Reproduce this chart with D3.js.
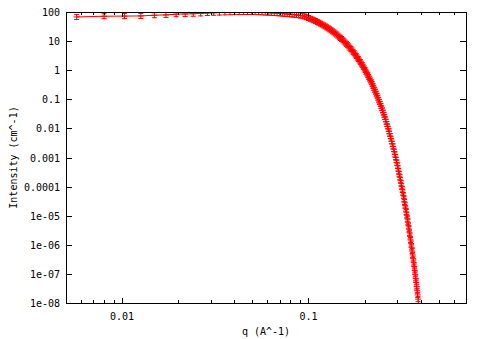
<!DOCTYPE html>
<html>
<head>
<meta charset="utf-8">
<script src="https://cdn.jsdelivr.net/npm/d3@7/dist/d3.min.js"></script>
<style>
	body { margin: 0; background: #fff; }
	text { font-family: "DejaVu Sans Mono", monospace; font-size: 10px; fill: #000; }
</style>
</head>
<body>
<svg id="chart" width="484" height="339"></svg>
<script>
// scattering curve: q (A^-1) and intensity (cm^-1)
var qValues = [
	0.0057, 0.0080, 0.0103, 0.0126, 0.0149, 0.0172, 0.0195, 0.0218, 0.0241, 0.0264,
	0.0287, 0.0310, 0.0333, 0.0356, 0.0379, 0.0402, 0.0425, 0.0448, 0.0471, 0.0494,
	0.0517, 0.0540, 0.0563, 0.0586, 0.0609, 0.0632, 0.0655, 0.0678, 0.0701, 0.0724,
	0.0747, 0.0770, 0.0793, 0.0816, 0.0839, 0.0862, 0.0885, 0.0908, 0.0931, 0.0954,
	0.0977, 0.1000, 0.1023, 0.1046, 0.1069, 0.1092, 0.1115, 0.1138, 0.1161, 0.1184,
	0.1207, 0.1230, 0.1253, 0.1276, 0.1299, 0.1322, 0.1345, 0.1368, 0.1391, 0.1414,
	0.1437, 0.1460, 0.1483, 0.1506, 0.1529, 0.1552, 0.1575, 0.1598, 0.1621, 0.1644,
	0.1667, 0.1690, 0.1713, 0.1736, 0.1759, 0.1782, 0.1805, 0.1828, 0.1851, 0.1874,
	0.1897, 0.1920, 0.1943, 0.1966, 0.1989, 0.2012, 0.2035, 0.2058, 0.2081, 0.2104,
	0.2127, 0.2150, 0.2173, 0.2196, 0.2219, 0.2242, 0.2265, 0.2288, 0.2311, 0.2334,
	0.2357, 0.2380, 0.2403, 0.2426, 0.2449, 0.2472, 0.2495, 0.2518, 0.2541, 0.2564,
	0.2587, 0.2610, 0.2633, 0.2656, 0.2679, 0.2702, 0.2725, 0.2748, 0.2771, 0.2794,
	0.2817, 0.2840, 0.2863, 0.2886, 0.2909, 0.2932, 0.2955, 0.2978, 0.3001, 0.3024,
	0.3047, 0.3070, 0.3093, 0.3116, 0.3139, 0.3162, 0.3185, 0.3208, 0.3231, 0.3254,
	0.3277, 0.3300, 0.3323, 0.3346, 0.3369, 0.3392, 0.3415, 0.3438, 0.3461, 0.3484,
	0.3507, 0.3530, 0.3553, 0.3576, 0.3599, 0.3622, 0.3645, 0.3668, 0.3691, 0.3714,
	0.3737, 0.3760, 0.3783, 0.3806, 0.3829, 0.3852, 0.3875, 0.3898
];
var intensity = [
	67.6, 71.6, 72.4, 73.3, 77.6, 79.4, 84.1, 85.5, 87.1, 89.5,
	92.3, 94.0, 95.7, 97.3, 98.2, 98.9, 99.5, 100.0, 100.0, 99.9,
	99.5, 98.9, 97.7, 96.0, 95.1, 93.8, 92.5, 91.2, 89.7, 88.3,
	86.9, 85.5, 83.9, 82.4, 80.9, 79.3, 77.6, 75.9, 74.1, 70.0,
	66.2, 62.4, 58.8, 55.3, 51.9, 48.7, 45.6, 42.6, 39.8, 37.1,
	34.5, 32.1, 29.8, 27.6, 25.5, 23.6, 21.7, 20.0, 18.4, 16.9,
	15.5, 14.1, 12.9, 11.8, 10.7, 9.75, 8.85, 8.02, 7.26, 6.55,
	5.90, 5.31, 4.78, 4.28, 3.83, 3.43, 3.06, 2.72, 2.42, 2.15,
	1.90, 1.68, 1.49, 1.31, 1.15, 1.01, 0.885, 0.774, 0.676, 0.589,
	0.512, 0.444, 0.385, 0.333, 0.287, 0.247, 0.212, 0.182, 0.156, 0.133,
	0.1136, 0.0966, 0.0820, 0.0695, 0.0587, 0.0495, 0.0417, 0.0350, 0.0293, 0.0245,
	0.0205, 0.0170, 0.01416, 0.01173, 0.00970, 0.00800, 0.00659, 0.00541, 0.00443, 0.00362,
	0.00295, 0.00240, 0.00195, 0.001578, 0.001274, 0.001026, 0.000825, 0.000661, 0.000528, 0.000421,
	0.000335, 0.000266, 0.000210, 0.000166, 1.307e-4, 1.026e-4, 8.04e-5, 6.27e-5, 4.89e-5, 3.80e-5,
	2.94e-5, 2.27e-5, 1.75e-5, 1.34e-5, 1.03e-5, 7.85e-6, 5.98e-6, 4.54e-6, 3.44e-6, 2.59e-6,
	1.95e-6, 1.465e-6, 1.096e-6, 8.18e-7, 6.08e-7, 4.50e-7, 3.33e-7, 2.45e-7, 1.80e-7, 1.318e-7,
	9.62e-8, 7.00e-8, 5.07e-8, 3.66e-8, 2.64e-8, 1.895e-8, 1.356e-8, 9.67e-9
];

// axis ticks
var xMajor = [0.01, 0.1];
var xMajorLabels = ["0.01", "0.1"];
var yMajor = [100, 10, 1, 0.1, 0.01, 0.001, 0.0001, 1e-5, 1e-6, 1e-7, 1e-8];
var yMajorLabels = ["100", "10", "1", "0.1", "0.01", "0.001", "0.0001", "1e-05", "1e-06", "1e-07", "1e-08"];

var LEFT = 66, TOP = 12, PLOT_W = 400, PLOT_H = 291;
var RED = "#ff0000";

var svg = d3.select("#chart");

var x = d3.scaleLog().domain([0.005, 0.7]).range([LEFT, LEFT + PLOT_W]);
var y = d3.scaleLog().domain([1e-8, 100]).range([TOP + PLOT_H, TOP]);

var points = qValues.map(function(q, i) { return [q, intensity[i]]; });

// clip the curve to the frame
svg.append("clipPath")
	.attr("id", "clip")
	.append("rect")
	.attr("x", LEFT)
	.attr("y", TOP)
	.attr("width", PLOT_W + 1)
	.attr("height", PLOT_H + 1);

var plot = svg.append("g").attr("clip-path", "url(#clip)");

plot.append("path")
	.datum(points)
	.attr("fill", "none")
	.attr("stroke", RED)
	.attr("stroke-width", 1)
	.attr("d", d3.line()
		.x(function(d) { return x(d[0]); })
		.y(function(d) { return y(d[1]); }));

// gnuplot style error-bar marker
var marker = "M-3,0H3M0,-3V3M-2.5,-2.5H2.5M-2.5,2.5H2.5";
plot.selectAll(".pt")
	.data(points.filter(function(d) { return d[1] >= 1e-8; }))
	.enter()
	.append("path")
	.attr("class", "pt")
	.attr("d", marker)
	.attr("fill", "none")
	.attr("stroke", RED)
	.attr("stroke-width", 1)
	.attr("transform", function(d) { return "translate(" + x(d[0]) + "," + y(d[1]) + ")"; });

// ticks on all four sides
var frame = svg.append("g")
	.attr("stroke", "#000")
	.attr("stroke-width", 1)
	.attr("shape-rendering", "crispEdges");

var xMinor = x.ticks().filter(function(t) { return xMajor.indexOf(t) < 0; });

function xTick(v, len)
{
	var px = Math.round(x(v)) + 0.5;
	frame.append("line").attr("x1", px).attr("x2", px).attr("y1", TOP + PLOT_H).attr("y2", TOP + PLOT_H - len);
	frame.append("line").attr("x1", px).attr("x2", px).attr("y1", TOP).attr("y2", TOP + len);
}
xMinor.forEach(function(v) { xTick(v, 3); });
xMajor.forEach(function(v) { xTick(v, 5); });

yMajor.forEach(function(v) {
	var py = Math.round(y(v)) + 0.5;
	frame.append("line").attr("x1", LEFT).attr("x2", LEFT + 6).attr("y1", py).attr("y2", py);
	frame.append("line").attr("x1", LEFT + PLOT_W).attr("x2", LEFT + PLOT_W - 6).attr("y1", py).attr("y2", py);
});

frame.append("rect")
	.attr("x", LEFT + 0.5)
	.attr("y", TOP + 0.5)
	.attr("width", PLOT_W)
	.attr("height", PLOT_H)
	.attr("fill", "none");

// tick labels
svg.selectAll(".ylab")
	.data(yMajor)
	.enter()
	.append("text")
	.attr("class", "ylab")
	.attr("text-anchor", "end")
	.attr("dominant-baseline", "central")
	.attr("x", LEFT - 6)
	.attr("y", function(d) { return y(d) + 0.5; })
	.text(function(d, i) { return yMajorLabels[i]; });

svg.selectAll(".xlab")
	.data(xMajor)
	.enter()
	.append("text")
	.attr("class", "xlab")
	.attr("text-anchor", "middle")
	.attr("x", function(d) { return x(d); })
	.attr("y", TOP + PLOT_H + 17)
	.text(function(d, i) { return xMajorLabels[i]; });

// axis titles
svg.append("text")
	.attr("text-anchor", "middle")
	.attr("x", LEFT + PLOT_W / 2)
	.attr("y", 335)
	.text("q (A^-1)");

svg.append("text")
	.attr("text-anchor", "middle")
	.attr("transform", "translate(17," + (TOP + PLOT_H / 2) + ") rotate(-90)")
	.text("Intensity (cm^-1)");
</script>
</body>
</html>
